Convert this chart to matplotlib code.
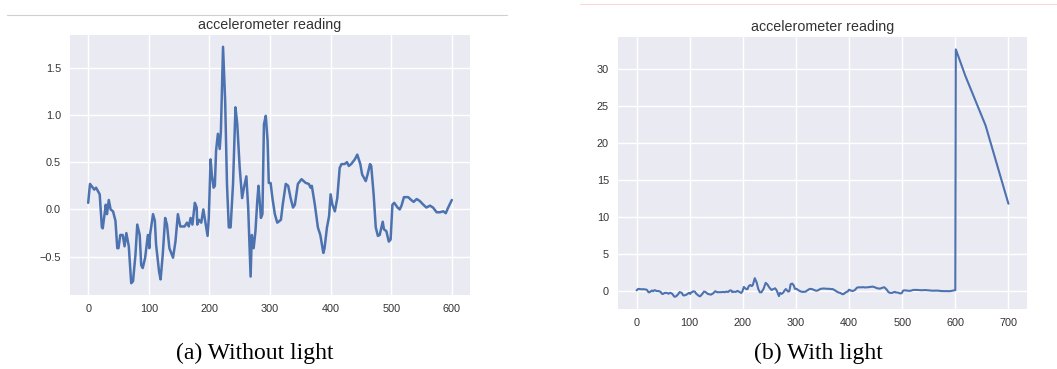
import numpy as np
import matplotlib
matplotlib.use('Agg')
import matplotlib.pyplot as plt
from matplotlib.lines import Line2D

# accelerometer trace without light (sample index, reading)
t_dark = [0, 3, 10, 13, 19, 22.6, 24, 29, 31, 34, 37, 41, 45, 48, 50, 53, 57, 60, 63, 67,
          71, 74, 78, 81, 85, 87.5, 90, 94, 98.5, 101, 102, 107, 110, 112, 117, 119.5, 123, 127, 130, 134,
          140, 144, 148, 152, 159, 163, 166, 169, 172, 176, 179, 180, 183, 186.6, 190, 194, 197, 199, 202, 204,
          207, 209, 211, 214, 217, 219, 222.5, 226, 229, 232, 235, 239, 243, 246, 250, 254, 257, 261, 264, 266,
          268, 270, 273, 276, 279, 281, 283, 285, 287.5, 290, 293, 296, 298, 301, 304, 308, 312, 318, 321, 326,
          330, 334, 338, 341, 346, 352, 359, 364, 367, 369, 374, 379, 383, 388, 390, 394, 397.5, 400, 403, 407,
          411, 415, 418, 423, 427, 430, 434, 440, 444, 449, 452, 458, 461, 465, 467, 471, 474.5, 478, 481, 486,
          488, 492, 496, 499, 502, 505, 510.5, 514, 517, 521, 528, 533, 537, 542, 547, 553, 558, 564, 569, 575,
          580, 586, 590, 594, 600]
acc_dark = [0.07, 0.27, 0.21, 0.23, 0.16, -0.19, -0.2, 0.05, -0.05, 0.1, 0.0, -0.02, -0.12, -0.41, -0.41, -0.27, -0.27, -0.39, -0.25, -0.39,
            -0.78, -0.76, -0.48, -0.16, -0.27, -0.59, -0.62, -0.51, -0.27, -0.41, -0.27, -0.05, -0.12, -0.37, -0.66, -0.74, -0.48, -0.09, -0.16, -0.41,
            -0.51, -0.34, -0.05, -0.18, -0.18, -0.14, -0.18, -0.09, -0.16, 0.07, 0.02, -0.16, -0.11, -0.14, 0.0, -0.16, -0.28, -0.09, 0.53, 0.37,
            0.23, 0.25, 0.62, 0.80, 0.64, 0.83, 1.72, 1.15, 0.27, -0.19, -0.19, 0.27, 1.08, 0.9, 0.44, 0.12, 0.23, 0.35, 0.02, -0.34,
            -0.71, -0.27, -0.41, -0.23, 0.09, 0.25, 0.09, -0.09, -0.05, 0.9, 0.99, 0.73, 0.28, 0.28, 0.12, -0.05, -0.14, -0.11, 0.05, 0.27,
            0.25, 0.12, 0.02, 0.05, 0.27, 0.32, 0.28, 0.27, 0.23, 0.25, 0.05, -0.19, -0.27, -0.46, -0.41, -0.19, -0.07, 0.16, 0.05, -0.02,
            0.12, 0.44, 0.48, 0.48, 0.50, 0.46, 0.48, 0.53, 0.58, 0.48, 0.37, 0.30, 0.37, 0.48, 0.46, 0.16, -0.19, -0.28, -0.27, -0.13,
            -0.21, -0.23, -0.34, -0.32, 0.05, 0.07, 0.02, 0.0, 0.04, 0.13, 0.13, 0.10, 0.08, 0.11, 0.09, 0.05, 0.02, 0.04, 0.02, -0.03,
            -0.03, -0.02, -0.04, 0.02, 0.10]

# with light: same trace, then the jump once the light is switched on
t_light_extra = [601, 619, 657, 700]
acc_light_extra = [32.7, 29.1, 22.4, 11.8]
t_light = t_dark + t_light_extra
acc_light = acc_dark + acc_light_extra

plot_title = 'accelerometer reading'
captions = ['(a) Without light', '(b) With light']

plt.style.use('seaborn-v0_8')
plt.rcParams['font.family'] = ['Liberation Sans', 'DejaVu Sans']

W, H = 1057, 369
fig = plt.figure(figsize=(W / 100, H / 100), dpi=100)
fig.patch.set_facecolor('white')


def px_axes(x0, y0, x1, y1):
    return fig.add_axes([x0 / W, 1 - y1 / H, (x1 - x0) / W, (y1 - y0) / H])


ax1 = px_axes(70, 35, 470, 295)
ax2 = px_axes(618, 37, 1027, 309)

ax1.plot(t_dark, acc_dark, color='#4C72B0', linewidth=1.8, solid_joinstyle='round')
ax2.plot(t_light, acc_light, color='#4C72B0', linewidth=1.5, solid_joinstyle='round')

for ax in (ax1, ax2):
    ax.set_title(plot_title, fontsize=10.3, color='#333333', pad=4)
    ax.tick_params(axis='both', labelsize=7.8, labelcolor='#333333', pad=6.5)

# screenshot border lines above each panel
fig.add_artist(Line2D([7 / W, 507 / W], [1 - 15 / H, 1 - 15 / H], color='#d0d0d0', linewidth=0.8))
fig.add_artist(Line2D([580 / W, 1], [1 - 4 / H, 1 - 4 / H], color='#ffd6d6', linewidth=0.8))

fig.text(255 / W, 1 - 353 / H, captions[0], ha='center', va='center',
         fontsize=17, family='Liberation Serif', color='black')
fig.text(818 / W, 1 - 353 / H, captions[1], ha='center', va='center',
         fontsize=17, family='Liberation Serif', color='black')

fig.savefig('out.png', dpi=100)
